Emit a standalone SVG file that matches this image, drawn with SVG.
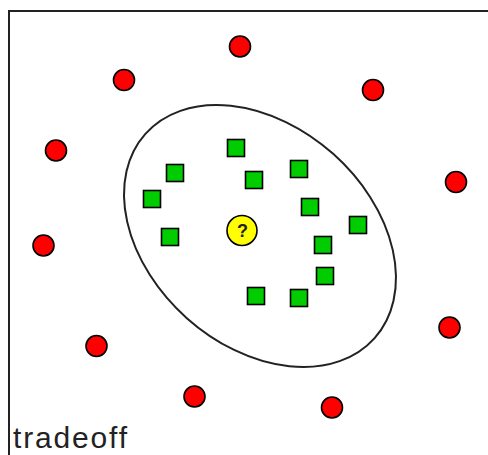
<svg xmlns="http://www.w3.org/2000/svg" width="488" height="455" viewBox="0 0 488 455">
<style>
.red{fill:#ff0000;stroke:#000;stroke-width:1.6}
.sq{fill:#00cc00;stroke:#000;stroke-width:1.6}
.q{fill:#ffff00;stroke:#000;stroke-width:1.6}
.frame{fill:none;stroke:#222;stroke-width:2}
.bound{fill:none;stroke:#222;stroke-width:2}
.lbl{font-family:"Liberation Sans",Arial,sans-serif;fill:#222}
</style>
<rect width="488" height="455" fill="#fff"/>
<path class="frame" d="M9,455 V11 H488"/>
<g id="boundary"><ellipse class="bound" cx="260" cy="236" rx="153.5" ry="110" transform="rotate(41.7 260 236)"/></g>
<g id="red-points">
<circle class="red" cx="240" cy="46.5" r="10.5"/>
<circle class="red" cx="124" cy="80" r="10.5"/>
<circle class="red" cx="373" cy="90" r="10.5"/>
<circle class="red" cx="56" cy="150.5" r="10.5"/>
<circle class="red" cx="456" cy="182" r="10.5"/>
<circle class="red" cx="43.5" cy="245.5" r="10.5"/>
<circle class="red" cx="449.5" cy="327.5" r="10.5"/>
<circle class="red" cx="96.5" cy="346" r="10.5"/>
<circle class="red" cx="194.5" cy="396.5" r="10.5"/>
<circle class="red" cx="332" cy="407.5" r="10.5"/>
</g>
<g id="green-points">
<rect class="sq" x="227.5" y="139.5" width="17" height="17"/>
<rect class="sq" x="166.5" y="164.5" width="17" height="17"/>
<rect class="sq" x="245.5" y="171.5" width="17" height="17"/>
<rect class="sq" x="290.5" y="160.5" width="17" height="17"/>
<rect class="sq" x="143.5" y="190.5" width="17" height="17"/>
<rect class="sq" x="301.5" y="198.5" width="17" height="17"/>
<rect class="sq" x="349.5" y="216.5" width="17" height="17"/>
<rect class="sq" x="161.5" y="228.5" width="17" height="17"/>
<rect class="sq" x="314.5" y="236.5" width="17" height="17"/>
<rect class="sq" x="316.5" y="267.5" width="17" height="17"/>
<rect class="sq" x="247.5" y="287.5" width="17" height="17"/>
<rect class="sq" x="290.5" y="289.5" width="17" height="17"/>
</g>
<g id="query">
<circle class="q" cx="242" cy="230.5" r="15"/>
<text class="lbl" x="242.5" y="237" font-size="18" font-weight="bold" text-anchor="middle" fill="#444">?</text>
</g>
<text class="lbl" x="13" y="448" font-size="30" textLength="114" lengthAdjust="spacing">tradeoff</text>
</svg>
